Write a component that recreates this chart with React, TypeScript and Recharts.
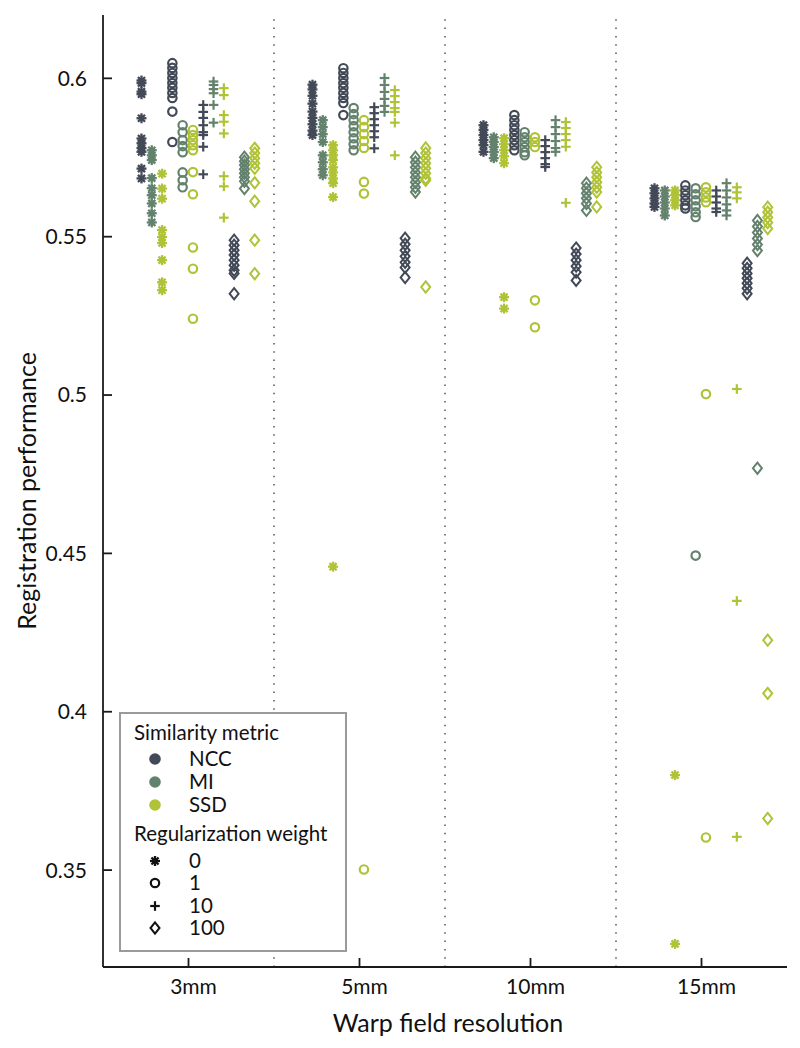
import React from 'react';
import { ScatterChart, Scatter, XAxis, YAxis, ReferenceLine, Legend } from 'recharts';

const RESOLUTIONS = ['3mm', '5mm', '10mm', '15mm'];
const METRICS = ['NCC', 'MI', 'SSD'];
const WEIGHTS = ['0', '1', '10', '100'];
const Y_TICKS = [0.35, 0.4, 0.45, 0.5, 0.55, 0.6];

// columns per resolution: w0 (NCC, MI, SSD), w1 (NCC, MI, SSD), w10 (...), w100 (...)
const res3mm = [
  [0.5993, 0.5985, 0.5958, 0.595, 0.5874, 0.581, 0.5795, 0.578, 0.5768, 0.5715, 0.5684],
  [0.5773, 0.5757, 0.5742, 0.5685, 0.5653, 0.5631, 0.5605, 0.5574, 0.5545],
  [0.5699, 0.5652, 0.562, 0.5521, 0.5499, 0.548, 0.5426, 0.5356, 0.5331],
  [0.6048, 0.6033, 0.6017, 0.6001, 0.5985, 0.597, 0.5954, 0.5938, 0.5895, 0.5799],
  [0.5852, 0.583, 0.5805, 0.5786, 0.5767, 0.5703, 0.5678, 0.5656],
  [0.5837, 0.5821, 0.5805, 0.5789, 0.5773, 0.5704, 0.5634, 0.5466, 0.5399, 0.5241],
  [0.5916, 0.5894, 0.5875, 0.5852, 0.583, 0.5821, 0.5784, 0.5697],
  [0.599, 0.5979, 0.5966, 0.5953, 0.5916, 0.586],
  [0.5969, 0.5947, 0.5884, 0.5863, 0.5826, 0.5691, 0.5659, 0.556],
  [0.5489, 0.5473, 0.5457, 0.5442, 0.5426, 0.541, 0.5394, 0.5384, 0.532],
  [0.5751, 0.5738, 0.5726, 0.5713, 0.57, 0.5688, 0.5675, 0.5652],
  [0.5779, 0.5764, 0.5748, 0.5732, 0.5716, 0.567, 0.5612, 0.5489, 0.5383],
];

const res5mm = [
  [0.598, 0.5965, 0.5945, 0.592, 0.5895, 0.5875, 0.5855, 0.5835, 0.5821],
  [0.5868, 0.5846, 0.5824, 0.5799, 0.5757, 0.5735, 0.5713, 0.5694],
  [0.5789, 0.5773, 0.5757, 0.5742, 0.5719, 0.5703, 0.5684, 0.5669, 0.5625, 0.4458],
  [0.6032, 0.6017, 0.6001, 0.5985, 0.597, 0.5954, 0.5938, 0.5922, 0.5884],
  [0.5906, 0.5887, 0.5868, 0.5849, 0.583, 0.5811, 0.5792, 0.5773],
  [0.5868, 0.5846, 0.5824, 0.5802, 0.578, 0.5673, 0.5636, 0.3502],
  [0.5909, 0.589, 0.5871, 0.5852, 0.5833, 0.5814, 0.5779],
  [0.6001, 0.5979, 0.5957, 0.5935, 0.5913, 0.5894],
  [0.5963, 0.5944, 0.5925, 0.5906, 0.5894, 0.586, 0.5757],
  [0.5495, 0.5476, 0.5457, 0.5438, 0.5419, 0.5403, 0.5371],
  [0.5751, 0.5735, 0.5719, 0.5703, 0.5688, 0.5672, 0.5656, 0.5641],
  [0.578, 0.5764, 0.5748, 0.5732, 0.5716, 0.57, 0.5684, 0.5678, 0.5341],
];

const res10mm = [
  [0.5852, 0.5837, 0.5821, 0.5805, 0.5789, 0.5768],
  [0.5814, 0.5799, 0.5783, 0.5767, 0.5748],
  [0.5811, 0.5792, 0.5773, 0.5754, 0.5732, 0.5309, 0.5273],
  [0.5884, 0.5868, 0.5852, 0.5837, 0.5821, 0.5805, 0.5789, 0.5773],
  [0.583, 0.5814, 0.5799, 0.5783, 0.5767, 0.5757],
  [0.5814, 0.5799, 0.5783, 0.5299, 0.5214],
  [0.5805, 0.5786, 0.5767, 0.5748, 0.5729, 0.572],
  [0.5868, 0.5846, 0.5824, 0.5802, 0.578, 0.5768],
  [0.5862, 0.5843, 0.5824, 0.5805, 0.5784, 0.5607],
  [0.5464, 0.5445, 0.5426, 0.5407, 0.5388, 0.5362],
  [0.5669, 0.5653, 0.5637, 0.5621, 0.5605, 0.5583],
  [0.5719, 0.5703, 0.5688, 0.5672, 0.5656, 0.5641, 0.5594],
];

const res15mm = [
  [0.5653, 0.5637, 0.5621, 0.5605, 0.5594],
  [0.5646, 0.5627, 0.5608, 0.5589, 0.5567],
  [0.5646, 0.5631, 0.5615, 0.5599, 0.38, 0.3267],
  [0.5662, 0.5646, 0.5631, 0.5615, 0.5599, 0.5589],
  [0.5653, 0.5634, 0.5615, 0.5596, 0.5577, 0.5562, 0.4493],
  [0.5656, 0.564, 0.5624, 0.5609, 0.5003, 0.3603],
  [0.5646, 0.5627, 0.5608, 0.5589, 0.5578],
  [0.5669, 0.5646, 0.5624, 0.5602, 0.5583, 0.5567],
  [0.5656, 0.564, 0.5621, 0.5019, 0.435, 0.3605],
  [0.5416, 0.54, 0.5384, 0.5369, 0.5353, 0.5337, 0.532],
  [0.5551, 0.5532, 0.5513, 0.5494, 0.5475, 0.5456, 0.4769],
  [0.5593, 0.5577, 0.5561, 0.5545, 0.5526, 0.4226, 0.4058, 0.3663],
];

const ALL_RES = [res3mm, res5mm, res10mm, res15mm];

const COLORS: Record<string, string> = { NCC: '#434a57', MI: '#63826d', SSD: '#b0c337' };
const MARKERS = ['star', 'circle', 'plus', 'diamond'];
const FONT = 'Lato, sans-serif';

// horizontal spread of the 12 columns inside each resolution band
const colOffset = (col: number) => -0.275 + col * 0.0602;

const series: { key: string; color: string; marker: string; data: { x: number; y: number }[] }[] = [];
WEIGHTS.forEach((w, wi) => {
  METRICS.forEach((m, mi) => {
    const col = wi * 3 + mi;
    const data: { x: number; y: number }[] = [];
    ALL_RES.forEach((res, ri) => {
      res[col].forEach((v) => data.push({ x: ri + 1 + colOffset(col), y: v }));
    });
    series.push({ key: `${m}-${w}`, color: COLORS[m], marker: MARKERS[wi], data });
  });
});

const Marker = ({ cx, cy, kind, color }: any) => {
  if (cx == null || cy == null) return null;
  if (kind === 'star') {
    const r = 5;
    const d = r * Math.SQRT1_2;
    return (
      <g stroke={color} strokeWidth={2.3} fill={color}>
        <line x1={cx - r} y1={cy} x2={cx + r} y2={cy} />
        <line x1={cx} y1={cy - r} x2={cx} y2={cy + r} />
        <line x1={cx - d} y1={cy - d} x2={cx + d} y2={cy + d} />
        <line x1={cx - d} y1={cy + d} x2={cx + d} y2={cy - d} />
        <circle cx={cx} cy={cy} r={2.9} stroke="none" />
      </g>
    );
  }
  if (kind === 'circle') {
    return <circle cx={cx} cy={cy} r={4.2} fill="none" stroke={color} strokeWidth={2.2} />;
  }
  if (kind === 'plus') {
    const r = 4.8;
    return (
      <g stroke={color} strokeWidth={2.2}>
        <line x1={cx - r} y1={cy} x2={cx + r} y2={cy} />
        <line x1={cx} y1={cy - r} x2={cx} y2={cy + r} />
      </g>
    );
  }
  return (
    <path
      d={`M${cx},${cy - 5.6} L${cx + 4.5},${cy} L${cx},${cy + 5.6} L${cx - 4.5},${cy} Z`}
      fill="none"
      stroke={color}
      strokeWidth={2}
    />
  );
};

const LegendBox = () => {
  const rowText = { fontFamily: FONT, fontSize: 20.5, fill: '#111' };
  const metricRows = [47, 70, 93];
  const weightRows = [149, 171, 194, 216];
  return (
    <svg width={228} height={240} style={{ display: 'block' }}>
      <rect x={1} y={1} width={226} height={238} fill="#fff" stroke="#9a9a9a" strokeWidth={2} />
      <text x={15} y={28} {...rowText}>Similarity metric</text>
      {METRICS.map((m, i) => (
        <g key={m}>
          <circle cx={36} cy={metricRows[i]} r={5.8} fill={COLORS[m]} />
          <text x={70} y={metricRows[i] + 7} {...rowText}>{m}</text>
        </g>
      ))}
      <text x={15} y={129} {...rowText}>Regularization weight</text>
      {WEIGHTS.map((w, i) => (
        <g key={w}>
          <Marker cx={36} cy={weightRows[i]} kind={MARKERS[i]} color="#111" />
          <text x={70} y={weightRows[i] + 7} {...rowText}>{w}</text>
        </g>
      ))}
    </svg>
  );
};

const App = () => {
  return (
    <div style={{ position: 'absolute', left: 0, top: 0, background: '#fff' }}>
      <ScatterChart width={800} height={1048} margin={{ top: 15, right: 13, bottom: 0, left: 0 }}>
        <XAxis
          type="number"
          dataKey="x"
          domain={[0.5, 4.5]}
          ticks={[1, 2, 3, 4]}
          allowDataOverflow
          height={81}
          tickFormatter={(v: number) => RESOLUTIONS[v - 1]}
          tickSize={-9}
          tickMargin={21}
          axisLine={{ stroke: '#1a1a1a', strokeWidth: 1.8 }}
          tickLine={{ stroke: '#1a1a1a', strokeWidth: 1.8 }}
          tick={{ fill: '#111', fontSize: 21, fontFamily: FONT, dx: 5 }}
          label={(props: any) => {
            const vb = props.viewBox;
            return (
              <text x={vb.x + vb.width / 2 + 3} y={vb.y + 65} textAnchor="middle" fontFamily={FONT} fontSize={25} fill="#111">
                Warp field resolution
              </text>
            );
          }}
        />
        <YAxis
          type="number"
          dataKey="y"
          domain={[0.3194, 0.62]}
          ticks={Y_TICKS}
          allowDataOverflow
          width={103}
          tickFormatter={(v: number) => String(+v.toFixed(2))}
          tickSize={-9}
          tickMargin={25}
          axisLine={{ stroke: '#1a1a1a', strokeWidth: 1.8 }}
          tickLine={{ stroke: '#1a1a1a', strokeWidth: 1.8 }}
          tick={{ fill: '#111', fontSize: 21, fontFamily: FONT }}
          label={(props: any) => {
            const vb = props.viewBox;
            const x = vb.x + 36;
            const y = vb.y + vb.height / 2;
            return (
              <text x={x} y={y} transform={`rotate(-90, ${x}, ${y})`} textAnchor="middle" fontFamily={FONT} fontSize={25} fill="#111">
                Registration performance
              </text>
            );
          }}
        />
        {[1.5, 2.5, 3.5].map((x) => (
          <ReferenceLine key={x} x={x} stroke="#555" strokeWidth={1.5} strokeDasharray="1.5 6.8" />
        ))}
        {series.map((s) => (
          <Scatter
            key={s.key}
            name={s.key}
            data={s.data}
            isAnimationActive={false}
            shape={(p: any) => <Marker cx={p.cx} cy={p.cy} kind={s.marker} color={s.color} />}
          />
        ))}
        <Legend
          layout="vertical"
          align="center"
          verticalAlign="middle"
          content={() => <LegendBox />}
          wrapperStyle={{ left: 119, top: 712, width: 228, height: 240 }}
        />
      </ScatterChart>
    </div>
  );
};

export default App;
